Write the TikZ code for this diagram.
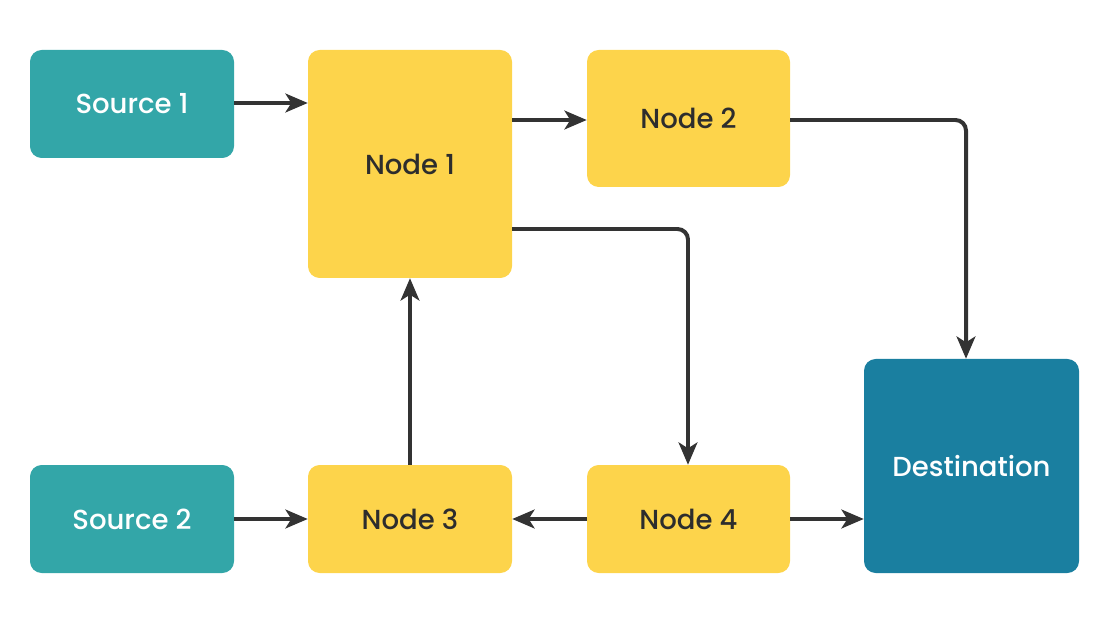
\documentclass[tikz,border=0pt]{standalone}
\usepackage{fontspec}
\setmainfont{Poppins}[UprightFont=* Medium]
\usetikzlibrary{arrows.meta}
\definecolor{yel}{HTML}{FDD44B}
\definecolor{teal1}{HTML}{33A6A8}
\definecolor{dest}{HTML}{1A7FA0}
\definecolor{ink}{HTML}{333333}
\definecolor{txt}{HTML}{2D2D2D}
\begin{document}
\begin{tikzpicture}[x=0.03cm,y=-0.03cm,
  box/.style={rounded corners=10pt,inner sep=0pt,font=\fontsize{23.5}{26}\selectfont},
  ybox/.style={box,fill=yel,text=txt},
  tbox/.style={box,fill=teal1,text=white},
  dbox/.style={box,fill=dest,text=white},
  conn/.style={draw=ink,line width=3.4pt,rounded corners=9pt,-{Stealth[length=19pt,width=16pt,inset=5pt]}}]
\useasboundingbox (0,0) rectangle (1110,624);
\node[tbox,minimum width=204*0.03cm,minimum height=108*0.03cm] (s1) at (132,104) {Source 1};
\node[tbox,minimum width=204*0.03cm,minimum height=108*0.03cm] (s2) at (132,519) {Source 2};
\node[ybox,minimum width=204*0.03cm,minimum height=228*0.03cm] (n1) at (410,164) {Node 1};
\node[ybox,minimum width=203*0.03cm,minimum height=137*0.03cm] (n2) at (688.5,118.5) {Node 2};
\node[ybox,minimum width=204*0.03cm,minimum height=108*0.03cm] (n3) at (410,519) {Node 3};
\node[ybox,minimum width=203*0.03cm,minimum height=108*0.03cm] (n4) at (688.5,519) {Node 4};
\node[dbox,minimum width=215*0.03cm,minimum height=214*0.03cm] (d) at (971.5,466) {Destination};
\coordinate (c1) at (966,120);
\coordinate (c2) at (688,229);
\draw[conn] (s1.east |- 0,103) -- (n1.west |- 0,103);
\draw[conn] (n1.east |- 0,120) -- (n2.west |- 0,120);
\draw[conn] (n2.east |- 0,120) -- (c1) -- (c1 |- d.north);
\draw[conn] (n1.east |- 0,229) -- (c2) -- (c2 |- n4.north);
\draw[conn] (n3.north) -- (n1.south);
\draw[conn] (s2.east) -- (n3.west);
\draw[conn] (n4.west) -- (n3.east);
\draw[conn] (n4.east) -- (d.west |- n4.east);
\end{tikzpicture}
\end{document}
